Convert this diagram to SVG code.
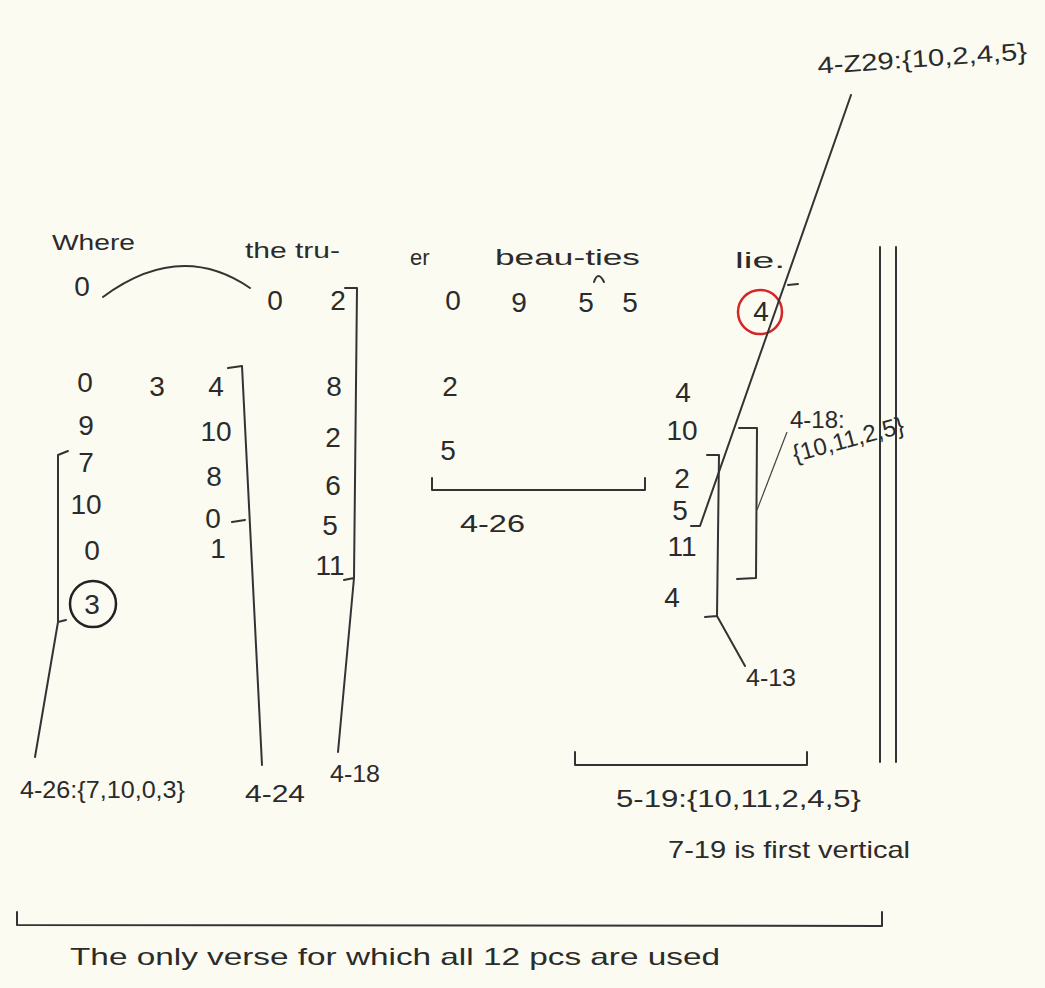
<svg xmlns="http://www.w3.org/2000/svg" width="1045" height="988" viewBox="0 0 1045 988">
<style>
.n{font-family:"Liberation Sans",Arial,sans-serif;font-size:28px;fill:#2b2b2b;text-anchor:middle}
.w{font-family:"Liberation Sans",Arial,sans-serif;font-size:22px;fill:#2b2b2b}
.l{font-family:"Liberation Sans",Arial,sans-serif;font-size:24px;fill:#2b2b2b}
.s{fill:none;stroke:#333;stroke-width:2;stroke-linecap:round;stroke-linejoin:round}
.t{fill:none;stroke:#444;stroke-width:1.2}
</style>
<rect width="1045" height="988" fill="#fbfbf1"/>
<g id="lyrics">
<text class="w" x="52" y="250" textLength="83" lengthAdjust="spacingAndGlyphs">Where</text>
<text class="w" x="245" y="258" textLength="95" lengthAdjust="spacingAndGlyphs">the tru-</text>
<text class="w" x="410" y="265">er</text>
<text class="w" x="495" y="265" textLength="145" lengthAdjust="spacingAndGlyphs">beau-ties</text>
<text class="w" x="735" y="268" textLength="50" lengthAdjust="spacingAndGlyphs">lie.</text>
<path class="s" d="M103,297 Q180,240 250,288"/>
<path class="s" d="M594,282 Q598,270 604,282"/>
</g>
<g id="row1">
<text class="n" x="82" y="296" font-size="24">0</text>
<text class="n" x="275" y="310">0</text>
<text class="n" x="338" y="310">2</text>
<text class="n" x="453" y="310">0</text>
<text class="n" x="519" y="312">9</text>
<text class="n" x="586" y="312">5</text>
<text class="n" x="630" y="312">5</text>
<text class="n" x="761" y="321">4</text>
<circle cx="760" cy="312" r="22" fill="none" stroke="#d42626" stroke-width="2.5"/>
</g>
<g id="col1">
<text class="n" x="85" y="392" font-size="24">0</text>
<text class="n" x="86" y="435" font-size="24">9</text>
<text class="n" x="86" y="472" font-size="24">7</text>
<text class="n" x="86" y="514" font-size="22">10</text>
<text class="n" x="92" y="560" font-size="22">0</text>
<text class="n" x="92" y="614" font-size="26">3</text>
<circle cx="93" cy="604" r="23" fill="none" stroke="#222" stroke-width="2.5"/>
</g>
<g id="col2"><text class="n" x="157" y="396">3</text></g>
<g id="col3">
<text class="n" x="216" y="396">4</text>
<text class="n" x="216" y="441" font-size="24">10</text>
<text class="n" x="214" y="486">8</text>
<text class="n" x="213" y="528">0</text>
<text class="n" x="218" y="558" font-size="24">1</text>
</g>
<g id="col4">
<text class="n" x="334" y="396">8</text>
<text class="n" x="333" y="447">2</text>
<text class="n" x="333" y="495">6</text>
<text class="n" x="330" y="535">5</text>
<text class="n" x="330" y="575">11</text>
</g>
<g id="col5">
<text class="n" x="450" y="396">2</text>
<text class="n" x="448" y="460">5</text>
</g>
<g id="col6">
<text class="n" x="683" y="402">4</text>
<text class="n" x="682" y="440" font-size="24">10</text>
<text class="n" x="682" y="488">2</text>
<text class="n" x="680" y="520">5</text>
<text class="n" x="682" y="556">11</text>
<text class="n" x="672" y="607">4</text>
</g>
<g id="connectors">
<path class="s" d="M851,95 L700,526 L691,526"/>
<path class="s" d="M788,285 L798,284"/>
<path class="s" d="M345,288 L357,288 L354,578 L344,580 M354,578 L338,752"/>
<path class="s" d="M228,368 L242,366 L262,765 M232,522 L245,520"/>
<path class="s" d="M68,451 L58,455 L58,622 L66,620 M58,622 L35,757"/>
<path class="s" d="M432,478 L432,490 L645,490 L645,478"/>
<path class="s" d="M707,455 L719,455 L717,616 L705,617 M717,616 L745,666"/>
<path class="s" d="M739,428 L757,428 L756,578 L737,579"/>
<path class="t" d="M757,510 L787,432"/>
<path class="s" d="M880,247 L880,762 M896,247 L896,762" stroke-width="2.5"/>
<path class="s" d="M575,752 L575,765 L807,765 L807,752"/>
<path class="s" d="M17,912 L17,925 L882,926 L882,912"/>
</g>
<g id="labels">
<text class="l" x="818" y="74" transform="rotate(-4 818 74)" textLength="210" lengthAdjust="spacingAndGlyphs">4-Z29:{10,2,4,5}</text>
<text class="l" x="20" y="798" textLength="165" lengthAdjust="spacingAndGlyphs">4-26:{7,10,0,3}</text>
<text class="l" x="245" y="802" textLength="60" lengthAdjust="spacingAndGlyphs">4-24</text>
<text class="l" x="330" y="782" textLength="50" lengthAdjust="spacingAndGlyphs">4-18</text>
<text class="l" x="460" y="532" textLength="65" lengthAdjust="spacingAndGlyphs">4-26</text>
<text class="l" x="746" y="686" textLength="50" lengthAdjust="spacingAndGlyphs">4-13</text>
<text class="l" x="790" y="428">4-18:</text>
<text class="l" x="795" y="462" font-size="16" transform="rotate(-15 795 462)">{10,11,2,5}</text>
<text class="l" x="616" y="807" textLength="245" lengthAdjust="spacingAndGlyphs">5-19:{10,11,2,4,5}</text>
<text class="l" x="668" y="858" textLength="242" lengthAdjust="spacingAndGlyphs">7-19 is first vertical</text>
<text class="l" x="70" y="965" textLength="650" lengthAdjust="spacingAndGlyphs" font-size="26">The only verse for which all 12 pcs are used</text>
</g>
</svg>
